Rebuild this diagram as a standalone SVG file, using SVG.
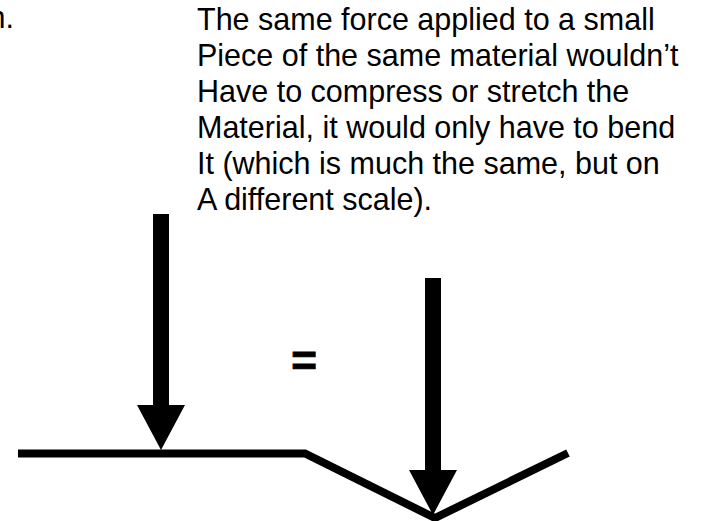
<svg xmlns="http://www.w3.org/2000/svg" width="724" height="521" viewBox="0 0 724 521">
  <style>
    .txt { font-family: "Liberation Sans", Arial, sans-serif; font-size: 30.5px; fill: #000; }
    .eq { font-family: "Liberation Sans", Arial, sans-serif; font-size: 44px; font-weight: bold; fill: #000; stroke: #000; stroke-width: 1; }
    .beam { fill: none; stroke: #000; stroke-width: 8; stroke-linejoin: miter; stroke-linecap: butt; }
    .arrow { fill: #000; stroke: none; }
  </style>
  <rect width="724" height="521" fill="#fff"/>
  <g id="caption-left">
    <text class="txt" x="14" y="28" text-anchor="end">n.</text>
  </g>
  <g id="caption">
    <text class="txt" x="197" y="30">
      <tspan x="197" y="30">The same force applied to a small</tspan>
      <tspan x="197" y="66">Piece of the same material wouldn’t</tspan>
      <tspan x="197" y="102">Have to compress or stretch the</tspan>
      <tspan x="197" y="138">Material, it would only have to bend</tspan>
      <tspan x="197" y="174">It (which is much the same, but on</tspan>
      <tspan x="197" y="210">A different scale).</tspan>
    </text>
  </g>
  <g id="equals">
    <text class="eq" x="304" y="376" text-anchor="middle">=</text>
  </g>
  <g id="beam">
    <path class="beam" d="M18,453.5 H305 L435,518 L568,453"/>
  </g>
  <g id="connectors">
    <g id="force-left">
      <rect class="arrow" x="153" y="214" width="16" height="193"/>
      <polygon class="arrow" points="137,405 185,405 161,450"/>
    </g>
    <g id="force-right">
      <rect class="arrow" x="425" y="278" width="16" height="194"/>
      <polygon class="arrow" points="409,470 457,470 433,515"/>
    </g>
  </g>
</svg>
